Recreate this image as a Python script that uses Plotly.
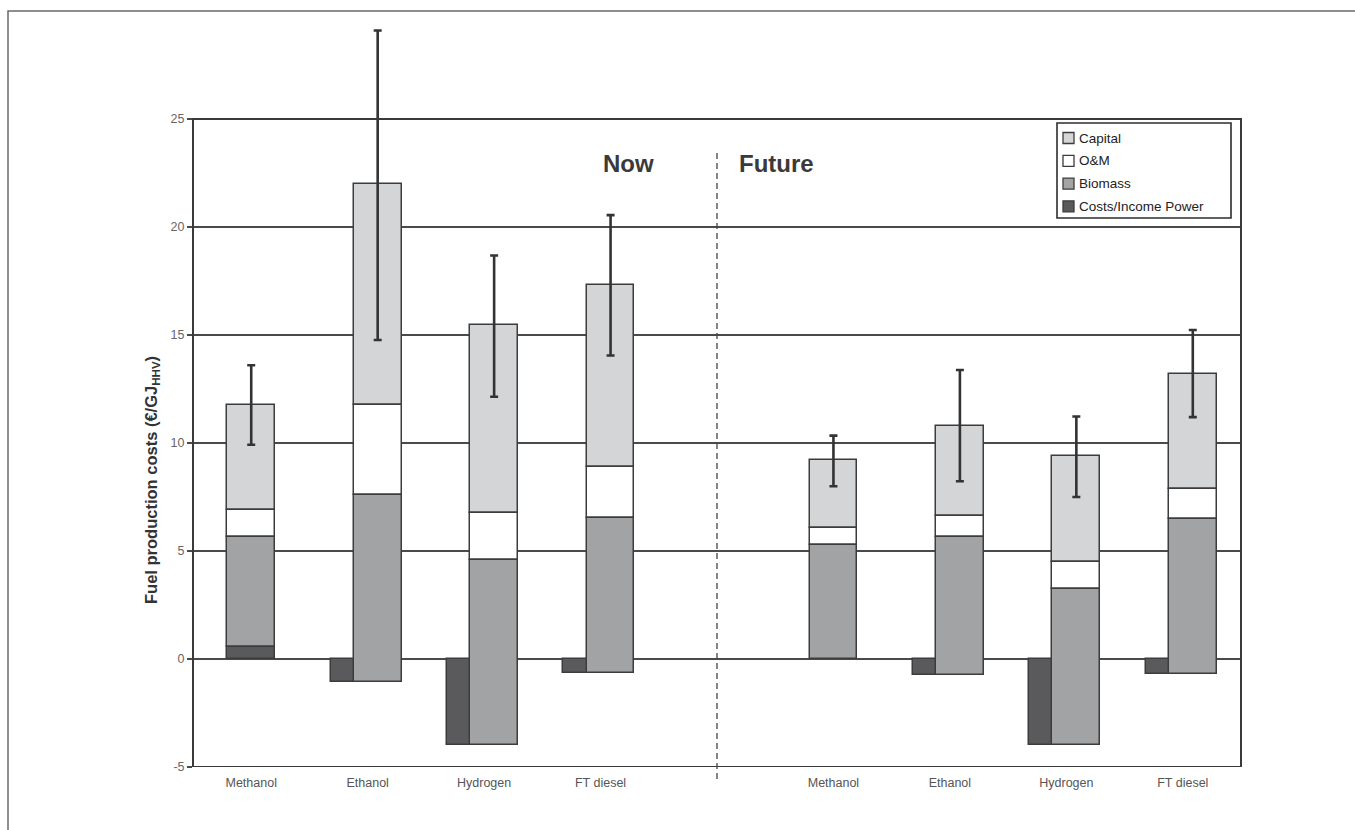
import plotly.graph_objects as go

# ---- data (€/GJ HHV) -------------------------------------------------------
periods = ["Now", "Future"]
fuels = ["Methanol", "Ethanol", "Hydrogen", "FT diesel"]

# power cost (+) or income (-) per fuel, Now then Future
power = [0.55, -1.05, -4.0, -0.67, 0.0, -0.72, -4.0, -0.70]
# cost components, stacked on top of the power value
biomass = [5.08, 8.63, 8.57, 7.18, 5.26, 6.38, 7.26, 7.16]
om = [1.26, 4.16, 2.18, 2.38, 0.82, 0.96, 1.23, 1.42]
capital = [4.85, 10.26, 8.73, 8.41, 3.12, 4.18, 4.89, 5.32]
# uncertainty range of the total production cost
err_low = [9.92, 14.77, 12.14, 14.05, 8.00, 8.23, 7.50, 11.20]
err_high = [13.60, 29.10, 18.68, 20.55, 10.34, 13.38, 11.23, 15.23]

y_ticks = [-5, 0, 5, 10, 15, 20, 25]
legend_names = ["Capital", "O&M", "Biomass", "Costs/Income Power"]

# ---- geometry --------------------------------------------------------------
FONT = "Liberation Sans, Arial, sans-serif"
W, H = 1355, 830
M_L, M_R, M_T, M_B = 193, 114, 11, 63
PLOT_W = W - M_L - M_R
PLOT_H = H - M_T - M_B

MAIN_W = 0.41      # width of the cost column (in category slots)
SIDE_W = 0.20      # width of the power-income column
SHIFT = 0.086      # cost column shift when an income column sits beside it


def px_x(px):
    """Horizontal pixel position -> paper coordinate."""
    return (px - M_L) / PLOT_W


def px_y(px):
    """Vertical pixel position (from top) -> paper coordinate."""
    return (H - M_B - px) / PLOT_H


n = len(fuels)
slots = [i + (n + 1) * p for p in range(len(periods)) for i in range(n)]
labels = [f for _ in periods for f in fuels]

main_x = [s + (SHIFT if pw < 0 else 0.0) for s, pw in zip(slots, power)]
side_x = [mx - MAIN_W / 2 - SIDE_W / 2 for mx in main_x]

biomass_top = [pw + b for pw, b in zip(power, biomass)]
om_top = [bt + o for bt, o in zip(biomass_top, om)]
total = [ot + c for ot, c in zip(om_top, capital)]

power_x = [mx if pw > 0 else sx for pw, mx, sx in zip(power, main_x, side_x)]
power_w = [MAIN_W if pw > 0 else SIDE_W for pw in power]
power_y = [pw if pw != 0 else None for pw in power]

EDGE_C = "#3c3c3c"
EDGE = dict(color=EDGE_C, width=1.5)
C_CAPITAL = "#d3d5d7"
C_OM = "#ffffff"
C_BIOMASS = "#a2a3a5"
C_POWER = "#5a5a5c"
legend_colors = [C_CAPITAL, C_OM, C_BIOMASS, C_POWER]

fig = go.Figure()

fig.add_trace(go.Bar(name=legend_names[0], x=main_x, y=capital, base=om_top,
                     width=MAIN_W, marker=dict(color=C_CAPITAL, line=EDGE)))
fig.add_trace(go.Bar(name=legend_names[1], x=main_x, y=om, base=biomass_top,
                     width=MAIN_W, marker=dict(color=C_OM, line=EDGE)))
fig.add_trace(go.Bar(name=legend_names[2], x=main_x, y=biomass, base=power,
                     width=MAIN_W, marker=dict(color=C_BIOMASS, line=EDGE)))
fig.add_trace(go.Bar(name=legend_names[3], x=power_x, y=power_y, base=0,
                     width=power_w, marker=dict(color=C_POWER, line=EDGE)))

# uncertainty bars around the total cost
fig.add_trace(go.Scatter(
    x=main_x, y=total, mode="markers", hoverinfo="skip",
    marker=dict(size=1, opacity=0),
    error_y=dict(type="data", symmetric=False,
                 array=[h - t for h, t in zip(err_high, total)],
                 arrayminus=[t - l for t, l in zip(total, err_low)],
                 color="#333333", thickness=2.6, width=4),
))

shapes = [
    # plot frame from -5 to 25
    dict(type="rect", xref="paper", yref="y", x0=0, x1=1, y0=-5, y1=25,
         line=dict(color="#3a3a3a", width=2), layer="above"),
    # separator between the two periods
    dict(type="line", xref="x", yref="paper", x0=n, x1=n,
         y0=px_y(779), y1=px_y(151),
         line=dict(color="#444444", width=1.3, dash="6px,4px")),
    # outer chart border
    dict(type="rect", xref="paper", yref="paper", x0=px_x(8), x1=px_x(1370),
         y0=px_y(860), y1=px_y(11), line=dict(color="#6a6a6a", width=1.5)),
]

annotations = [
    dict(text="<b>Now</b>", xref="paper", yref="paper", x=px_x(628),
         y=px_y(163), xanchor="center", yanchor="middle", showarrow=False,
         font=dict(family=FONT, size=24, color="#3a3a3a")),
    dict(text="<b>Future</b>", xref="paper", yref="paper", x=px_x(776),
         y=px_y(163), xanchor="center", yanchor="middle", showarrow=False,
         font=dict(family=FONT, size=24, color="#3a3a3a")),
    dict(text="<b>Fuel production costs (€/GJ<sub>HHV</sub>)</b>",
         xref="paper", yref="paper", x=px_x(152), y=px_y(480), textangle=-90,
         xanchor="center", yanchor="middle", showarrow=False,
         font=dict(family=FONT, size=16.5, color="#333333")),
]

# legend box with swatches, top-right inside the plot frame
LG_L, LG_T, LG_R, LG_B = 1057, 123, 1231, 218
shapes.append(dict(type="rect", xref="paper", yref="paper",
                   x0=px_x(LG_L), x1=px_x(LG_R), y0=px_y(LG_B), y1=px_y(LG_T),
                   fillcolor="white", line=dict(color="#2e2e2e", width=1.6),
                   layer="above"))
for k, (name, col) in enumerate(zip(legend_names, legend_colors)):
    cy = 138 + 22.8 * k
    shapes.append(dict(type="rect", xref="paper", yref="paper",
                       x0=px_x(1063), x1=px_x(1074),
                       y0=px_y(cy + 5.5), y1=px_y(cy - 5.5),
                       fillcolor=col, line=dict(color=EDGE_C, width=1.3),
                       layer="above"))
    annotations.append(dict(text=name, xref="paper", yref="paper",
                            x=px_x(1077), y=px_y(cy), xanchor="left",
                            yanchor="middle", showarrow=False,
                            font=dict(family=FONT, size=13.5, color="#222222")))

fig.update_layout(
    width=W, height=H,
    margin=dict(l=M_L, r=M_R, t=M_T, b=M_B),
    paper_bgcolor="white", plot_bgcolor="white",
    barmode="overlay", bargap=0, showlegend=False,
    font=dict(family=FONT, size=12, color="#555555"),
    shapes=shapes, annotations=annotations,
    xaxis=dict(
        range=[-0.5, len(slots) + 0.5], tickmode="array", tickvals=slots,
        ticktext=labels, showgrid=False, zeroline=False, showline=False,
        ticks="", ticklabelstandoff=6,
        tickfont=dict(family=FONT, size=12.5, color="#555555"),
    ),
    yaxis=dict(
        range=[-5, 30], tickmode="array", tickvals=y_ticks,
        ticktext=[str(v) for v in y_ticks],
        showgrid=True, gridcolor="#4a4a4a", gridwidth=1.6,
        zeroline=False, showline=False,
        ticks="outside", ticklen=5, tickcolor="#4a4a4a", tickwidth=1.5,
        tickfont=dict(family=FONT, size=12.5, color="#666666"),
    ),
)

fig.write_html("out.html")
